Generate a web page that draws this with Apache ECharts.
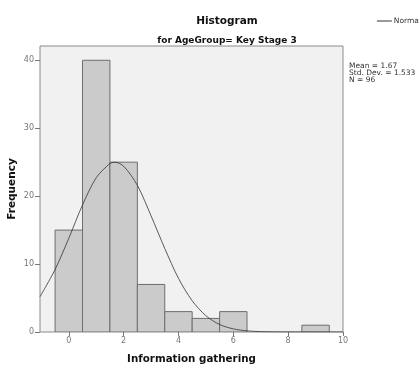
<!DOCTYPE html>
<html>
<head>
<meta charset="utf-8">
<script src="https://cdn.jsdelivr.net/npm/echarts@6/dist/echarts.min.js"></script>
<style>
  html, body { margin: 0; padding: 0; background: #fff; }
  #chart { width: 419px; height: 370px; }
</style>
</head>
<body>
<div id="chart"></div>
<script>
// histogram bins (centre of each bin) and counts
var binCenters = [0, 1, 2, 3, 4, 5, 6, 7, 8, 9];
var counts = [15, 40, 25, 7, 3, 2, 3, 0, 0, 1];
var binWidth = 1;

// normal curve
var curveX = [-1.05, -0.5, 0, 0.5, 1, 1.5, 1.67, 2, 2.5, 3, 3.5, 4, 4.5, 5, 5.5, 6, 6.5, 7, 7.5, 8, 9, 10];
var curveY = [5.2, 9.2, 13.8, 18.7, 22.7, 24.8, 25.0, 24.4, 21.6, 17.1, 12.3, 7.9, 4.6, 2.4, 1.1, 0.46, 0.17, 0.06, 0.02, 0.005, 0, 0];

var xTicks = [0, 2, 4, 6, 8, 10];
var yTicks = [0, 10, 20, 30, 40];
var stats = ["Mean = 1.67", "Std. Dev. = 1.533", "N = 96"];

var font = "DejaVu Sans";

var barData = binCenters.map(function (c, i) {
  return [c - binWidth / 2, c + binWidth / 2, counts[i]];
}).filter(function (d) { return d[2] > 0; });

var curveData = curveX.map(function (x, i) { return [x, curveY[i]]; });

var myChart = echarts.init(document.getElementById("chart"), null, { renderer: "canvas" });

var option = {
  animation: false,
  textStyle: { fontFamily: font },
  title: [
    {
      text: "Histogram",
      left: 222,
      textAlign: "center",
      top: 11,
      textStyle: { fontSize: 10.5, fontWeight: "bold", color: "#111", fontFamily: font }
    },
    {
      text: "for AgeGroup= Key Stage 3",
      left: 222,
      textAlign: "center",
      top: 31,
      textStyle: { fontSize: 9, fontWeight: "bold", color: "#111", fontFamily: font }
    }
  ],
  legend: {
    right: -7,
    top: 12,
    itemWidth: 15,
    itemHeight: 1,
    itemGap: 2,
    textStyle: { fontSize: 7.5, color: "#333", fontFamily: font, padding: [0, 0, 0, -3] },
    data: [{ name: "Normal", icon: "rect" }]
  },
  grid: {
    left: 40,
    right: 76,
    top: 46,
    bottom: 38,
    outerBoundsMode: "none",
    containLabel: false,
    show: true,
    backgroundColor: "#f1f1f1",
    borderColor: "#8a8a8a",
    borderWidth: 1
  },
  xAxis: {
    type: "value",
    min: -1.05,
    max: 10,
    splitLine: { show: false },
    axisLine: { show: false, onZero: false },
    axisTick: { show: true, length: 4, customValues: xTicks, lineStyle: { color: "#777" } },
    axisLabel: { customValues: xTicks, fontSize: 8, color: "#777", margin: 5, fontFamily: font },
    name: "Information gathering",
    nameLocation: "middle",
    nameGap: 22,
    nameMoveOverlap: false,
    nameTextStyle: { fontSize: 10.3, fontWeight: "bold", color: "#111", fontFamily: font }
  },
  yAxis: {
    type: "value",
    min: 0,
    max: 42.1,
    splitLine: { show: false },
    axisLine: { show: false, onZero: false },
    axisTick: { show: true, length: 5, customValues: yTicks, lineStyle: { color: "#777" } },
    axisLabel: { customValues: yTicks, fontSize: 8, color: "#777", margin: 6, fontFamily: font },
    name: "Frequency",
    nameLocation: "middle",
    nameGap: 22,
    nameMoveOverlap: false,
    nameTextStyle: { fontSize: 10.5, fontWeight: "bold", color: "#111", fontFamily: font }
  },
  graphic: [
    {
      type: "text",
      left: 349,
      top: 62,
      style: {
        text: stats.join("\n"),
        fontSize: 7.5,
        lineHeight: 7,
        fill: "#333",
        fontFamily: font
      }
    }
  ],
  series: [
    {
      name: "Histogram",
      type: "custom",
      clip: true,
      data: barData,
      encode: { x: [0, 1], y: 2 },
      renderItem: function (params, api) {
        var p0 = api.coord([api.value(0), api.value(2)]);
        var p1 = api.coord([api.value(1), 0]);
        return {
          type: "rect",
          shape: { x: p0[0], y: p0[1], width: p1[0] - p0[0], height: p1[1] - p0[1] },
          style: { fill: "#cbcbcb", stroke: "#6e6e6e", lineWidth: 1 }
        };
      }
    },
    {
      name: "Normal",
      type: "line",
      data: curveData,
      smooth: 0.3,
      symbol: "none",
      lineStyle: { color: "#333", width: 0.8 },
      itemStyle: { color: "#333" }
    }
  ]
};

myChart.setOption(option);
</script>
</body>
</html>
